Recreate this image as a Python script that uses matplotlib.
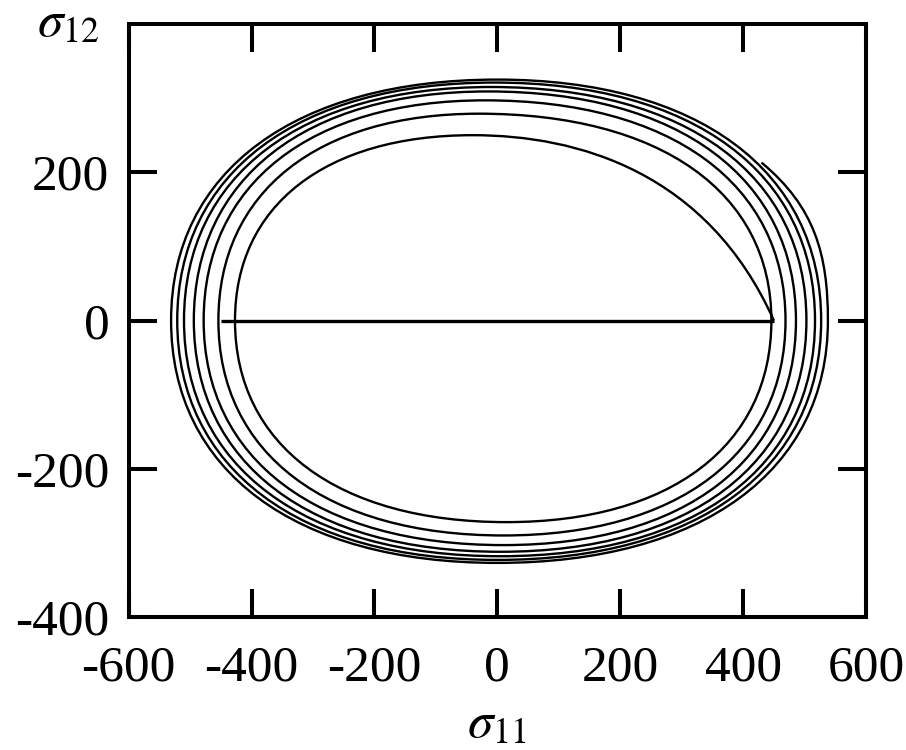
import matplotlib
matplotlib.use("Agg")
import matplotlib.pyplot as plt
from matplotlib.path import Path
from matplotlib.patches import PathPatch

# Axial (tension-compression) leg of the stress path
axial_x = [-450, 450]
axial_y = [0, 0]

# Combined-loading spiral: extreme points of each successive loop
loop_top_x = [-40, -30, -20, -15, -10, -5, 0]
loop_top_y = [250, 279, 297, 309, 315, 321, 325]
loop_left_x = [-427, -454, -478, -494, -510, -521, -531]
loop_bottom_x = [15, 10, 10, 5, 5, 0, 0]
loop_bottom_y = [-272, -290, -303, -312, -318, -323, -327]
loop_right_x = [446, 469, 486, 503, 517, 527, 538]

spiral_start = (450, 0)
spiral_end = (430, 213)

x_ticks = [-600, -400, -200, 0, 200, 400, 600]
y_ticks = [-400, -200, 0, 200]

plt.rcParams["font.family"] = ["Liberation Serif", "DejaVu Serif"]
plt.rcParams["mathtext.fontset"] = "stix"

fig = plt.figure(figsize=(9.06, 7.5), dpi=100)
W, H = 906, 750
ax = fig.add_axes([128.7 / W, 1 - 617 / H, (866 - 128.7) / W, (617 - 24) / H])

ax.plot(axial_x, axial_y, color="black", lw=2.4, solid_capstyle="butt")

# Spiral built from cubic Bezier quarter-arcs through the loop extremes
h = 0.62
verts = [spiral_start]
codes = [Path.MOVETO]
sx, sy = spiral_start
tx0, ty0 = loop_top_x[0], loop_top_y[0]
verts += [(sx - 0.22 * (sx - tx0), 0.8 * ty0), (tx0 + 0.35 * (sx - tx0), ty0), (tx0, ty0)]
codes += [Path.CURVE4] * 3
n = len(loop_top_y)
for k in range(n):
    tx, ty = loop_top_x[k], loop_top_y[k]
    lx = loop_left_x[k]
    bx, by = loop_bottom_x[k], loop_bottom_y[k]
    rx = loop_right_x[k]
    verts += [(tx - h * (tx - lx), ty), (lx, h * ty), (lx, 0)]
    verts += [(lx, h * by), (bx - h * (bx - lx), by), (bx, by)]
    verts += [(bx + h * (rx - bx), by), (rx, h * by), (rx, 0)]
    codes += [Path.CURVE4] * 9
    if k < n - 1:
        ntx, nty = loop_top_x[k + 1], loop_top_y[k + 1]
        verts += [(rx, h * nty), (ntx + h * (rx - ntx), nty), (ntx, nty)]
        codes += [Path.CURVE4] * 3
    else:
        ex, ey = spiral_end
        verts += [(rx, 0.42 * ey), (ex + 0.8 * (rx - ex), ey - 0.28 * ey), (ex, ey)]
        codes += [Path.CURVE4] * 3

ax.add_patch(PathPatch(Path(verts, codes), fill=False, edgecolor="black", lw=1.7))

ax.set_xlim(-600, 600)
ax.set_ylim(-400, 400)
ax.set_xticks(x_ticks)
ax.set_yticks(y_ticks)
ax.set_xticklabels([str(v) for v in x_ticks])
ax.set_yticklabels([str(v) for v in y_ticks])
ax.tick_params(direction="in", length=20, width=2.9, top=True, right=True,
               labelsize=37, color="black")
ax.tick_params(axis="y", pad=14)
ax.tick_params(axis="x", pad=20)
for s in ax.spines.values():
    s.set_linewidth(2.9)

fig.text(68 / W, 1 - 24 / H, r"$\sigma_{12}$", ha="center", va="center", fontsize=37)
fig.text(497 / W, 1 - 748 / H, r"$\sigma_{11}$", ha="center", va="bottom", fontsize=37)

fig.savefig("out.png", dpi=100)
